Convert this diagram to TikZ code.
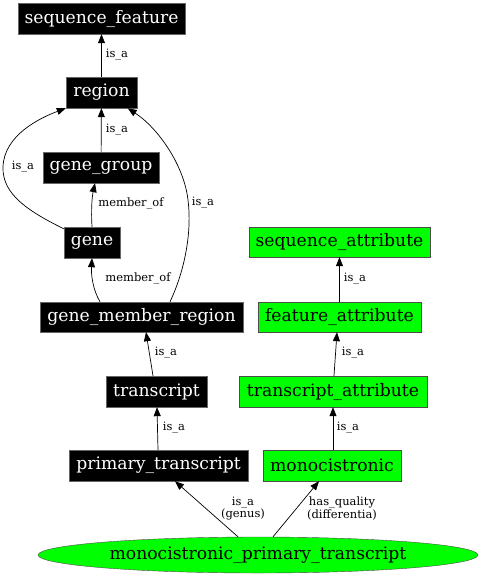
\documentclass[tikz,border=0pt]{standalone}
\usepackage{fontspec}
\setmainfont{DejaVu Serif}
\usetikzlibrary{arrows.meta,shapes.geometric}
\begin{document}
\begin{tikzpicture}[x=1pt,y=-1pt,
  term/.style={rectangle, draw=black!60, fill=black, text=white, font=\fontsize{17.2}{19}\selectfont, inner sep=0pt, minimum height=31pt},
  attr/.style={rectangle, draw=black!70, fill=green, text=black, font=\fontsize{17.2}{19}\selectfont, inner sep=0pt, minimum height=31pt},
  rel/.style={-{Triangle[length=9pt,width=7pt]}, line width=0.7pt},
  lab/.style={font=\fontsize{11.5}{12.5}\selectfont, inner sep=0pt, align=center}]
\useasboundingbox (0,0) rectangle (481,576);
% nodes
\node[term, minimum width=167pt] (sf) at (101.5,18.5) {sequence\_feature};
\node[term, minimum width=71pt] (region) at (101.5,92.5) {region};
\node[term, minimum width=116pt] (gg) at (101,167.5) {gene\_group};
\node[term, minimum width=56pt] (gene) at (92,242.5) {gene};
\node[term, minimum width=203pt, minimum height=30pt] (gmr) at (141.5,317) {gene\_member\_region};
\node[term, minimum width=101pt] (tr) at (156.5,391.5) {transcript};
\node[term, minimum width=179pt] (pt) at (158.5,465.5) {primary\_transcript};
\node[attr, minimum width=138pt] (mono) at (332,465.5) {monocistronic};
\node[attr, minimum width=188pt] (ta) at (333,391.5) {transcript\_attribute};
\node[attr, minimum width=163pt, minimum height=30pt] (fa) at (339.5,317) {feature\_attribute};
\node[attr, minimum width=181pt, minimum height=30pt] (sa) at (339.5,242) {sequence\_attribute};
\node[ellipse, draw=black!70, fill=green, font=\fontsize{17.2}{19}\selectfont, inner sep=0pt, minimum width=440pt, minimum height=36pt] (mpt) at (258,555) {monocistronic\_primary\_transcript};
% edges
\draw[rel] (region) -- (sf);
\node[lab] (l1) at (117,55) {is\_a};
\draw[rel] (gg) -- (region);
\node[lab] (l2) at (117,130) {is\_a};
\draw[rel] ([yshift=-2pt]gene.north west) .. controls (30,212) and (2,195) .. (3,167) .. controls (4,135) and (40,118) .. (region.south west);
\node[lab] (l3) at (23,167) {is\_a};
\draw[rel] (gene.north) .. controls (91,210) and (92,197) .. ([xshift=-6pt]gg.south);
\node[lab] (l4) at (131,203) {member\_of};
\draw[rel] ([xshift=-41.5pt]gmr.north) .. controls (93,290) and (91,275) .. (gene.south);
\node[lab] (l5) at (138,278) {member\_of};
\draw[rel] ([xshift=28.5pt]gmr.north) .. controls (185,270) and (192,232) .. (188,200) .. controls (184,165) and (158,128) .. ([xshift=-9.5pt]region.south east);
\node[lab] (l6) at (203,203) {is\_a};
\draw[rel] ([xshift=-3.5pt]tr.north) -- ([xshift=4.5pt]gmr.south);
\node[lab] (l7) at (166,353) {is\_a};
\draw[rel] ([xshift=-0.5pt]pt.north) -- ([xshift=0.5pt]tr.south);
\node[lab] (l8) at (174,428) {is\_a};
\draw[rel] ([xshift=-20pt]mpt.north) -- ([xshift=16.5pt]pt.south);
\node[lab] (l9) at (243,508.5) {is\_a\\(genus)};
\draw[rel] ([xshift=15pt]mpt.north) -- ([xshift=-13pt]mono.south);
\node[lab] (l10) at (342,508.5) {has\_quality\\(differentia)};
\draw[rel] ([xshift=1pt]mono.north) -- (ta.south);
\node[lab] (l11) at (348,428) {is\_a};
\draw[rel] ([xshift=1pt]ta.north) -- ([xshift=-2.5pt]fa.south);
\node[lab] (l12) at (353,353) {is\_a};
\draw[rel] (fa) -- (sa);
\node[lab] (l13) at (355,279) {is\_a};
\end{tikzpicture}
\end{document}
